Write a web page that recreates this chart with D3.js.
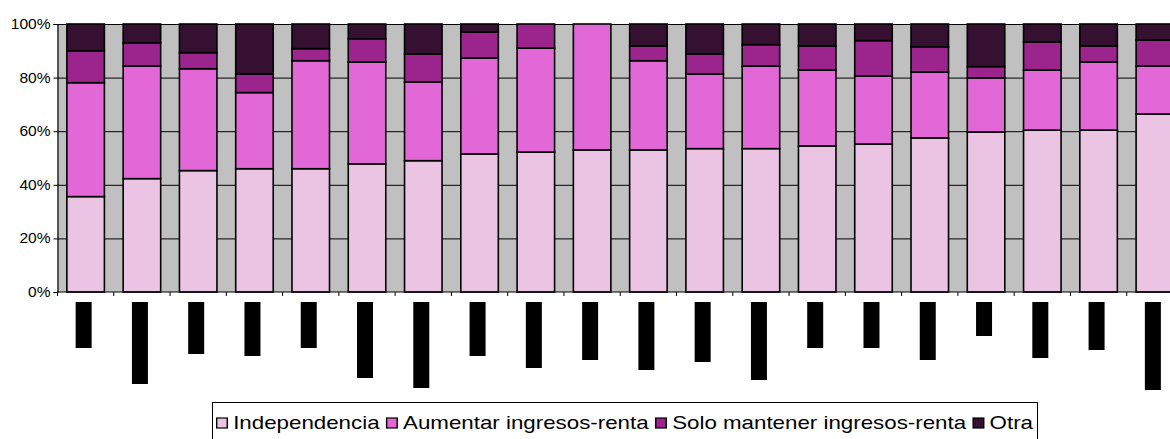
<!DOCTYPE html>
<html>
<head>
<meta charset="utf-8">
<script src="https://cdn.jsdelivr.net/npm/d3@7"></script>
<style>
  body { margin: 0; background: #fff; }
  svg { display: block; font-family: "Liberation Sans", Arial, sans-serif; }
</style>
</head>
<body>
<svg id="chart" width="1170" height="439"></svg>
<script>
// category labels are blacked out in the source, so only ids are kept
const categories = d3.range(1, 21).map(i => "C" + i);
const keys = ["Independencia", "Aumentar ingresos-renta", "Solo mantener ingresos-renta", "Otra"];

const independencia = [35.6, 42.3, 45.3, 46.0, 46.0, 47.8, 49.0, 51.5, 52.2, 53.0, 53.0, 53.5, 53.5, 54.5, 55.2, 57.5, 59.7, 60.4, 60.4, 66.4];
const aumentar      = [42.5, 42.0, 38.0, 28.4, 40.3, 38.0, 29.4, 35.8, 38.8, 47.0, 33.3, 27.8, 30.8, 28.3, 25.4, 24.6, 20.2, 22.4, 25.4, 17.9];
const solo          = [11.9,  8.7,  6.0,  6.9,  4.5,  8.7, 10.4,  9.7,  9.0,  0.0,  5.5,  7.5,  8.0,  9.0, 13.2,  9.4,  4.2, 10.5,  6.0,  9.7];
const otra          = [10.0,  7.0, 10.7, 18.7,  9.2,  5.5, 11.2,  3.0,  0.0,  0.0,  8.2, 11.2,  7.7,  8.2,  6.2,  8.5, 15.9,  6.7,  8.2,  6.0];

// length of each redacted (blacked out) category label
const labelLen = [46, 82, 52, 54, 46, 76, 86, 54, 66, 58, 68, 60, 78, 46, 46, 58, 34, 56, 48, 88];

const yTicks = [0, 20, 40, 60, 80, 100];
const colors = ["#ecc4e3", "#e168d6", "#9b258d", "#361030"];

const data = categories.map((c, i) => ({
  cat: c,
  "Independencia": independencia[i],
  "Aumentar ingresos-renta": aumentar[i],
  "Solo mantener ingresos-renta": solo[i],
  "Otra": otra[i]
}));

const svg = d3.select("#chart"),
  margin = {top: 24, left: 57.5, bottom: 147},
  plotRight = 1183,
  height = +svg.attr("height") - margin.top - margin.bottom;

const x = d3.scaleBand()
    .domain(categories)
    .range([margin.left, plotRight])
    .paddingInner(1 / 3)
    .paddingOuter(1 / 6);

const y = d3.scaleLinear().domain([0, 100]).range([margin.top + height, margin.top]);
const len = d3.scaleLinear().domain([0, 100]).range([0, 100]);
const color = d3.scaleOrdinal().domain(keys).range(colors);

// plot background
svg.append("rect")
    .attr("x", margin.left)
    .attr("y", y(100))
    .attr("width", plotRight - margin.left)
    .attr("height", y(0) - y(100))
    .attr("fill", "#c0c0c0");

// gridlines
svg.append("g")
  .selectAll("line")
  .data(yTicks.filter(d => d > 0))
  .join("line")
    .attr("x1", margin.left)
    .attr("x2", plotRight)
    .attr("y1", d => y(d) + 0.5)
    .attr("y2", d => y(d) + 0.5)
    .attr("stroke", "#000")
    .attr("stroke-width", 1);

// stacked bars
const series = d3.stack().keys(keys)(data);
svg.append("g")
  .selectAll("g")
  .data(series)
  .join("g")
    .attr("fill", d => color(d.key))
  .selectAll("rect")
  .data(d => d.filter(s => s[1] - s[0] > 0))
  .join("rect")
    .attr("x", d => x(d.data.cat))
    .attr("y", d => y(d[1]))
    .attr("width", x.bandwidth())
    .attr("height", d => y(d[0]) - y(d[1]))
    .attr("stroke", "#000")
    .attr("stroke-width", 1.6);

// y axis
const yAxis = svg.append("g")
    .attr("transform", "translate(" + margin.left + ",0)")
    .call(d3.axisLeft(y).tickValues(yTicks).tickSize(4).tickFormat(d => d + "%"));
yAxis.select(".domain").attr("stroke", "#000").attr("stroke-width", 1.2);
yAxis.selectAll(".tick text")
    .attr("font-family", "Liberation Sans, Arial, sans-serif")
    .attr("font-size", 14)
    .attr("fill", "#000")
    .attr("x", 0)
    .attr("transform", "translate(-7,0) scale(1.11,1)");

// x axis (ticks between categories)
const bounds = d3.range(categories.length + 1).map(i => margin.left + i * x.step());
svg.append("line")
    .attr("x1", margin.left)
    .attr("x2", plotRight)
    .attr("y1", y(0))
    .attr("y2", y(0))
    .attr("stroke", "#000")
    .attr("stroke-width", 1.2);
svg.append("g")
  .selectAll("line")
  .data(bounds)
  .join("line")
    .attr("x1", d => d)
    .attr("x2", d => d)
    .attr("y1", y(0))
    .attr("y2", y(0) + 4)
    .attr("stroke", "#000");

// redacted labels
svg.append("g")
  .selectAll("rect")
  .data(categories)
  .join("rect")
    .attr("x", d => x(d) + x.bandwidth() / 2 - 10)
    .attr("y", y(0) + 10)
    .attr("width", 16)
    .attr("height", (d, i) => len(labelLen[i]))
    .attr("fill", "#000");

// legend
const legend = svg.append("g").attr("transform", "translate(212,402)");
legend.append("rect")
    .attr("x", 0.5)
    .attr("y", 0.5)
    .attr("width", 825)
    .attr("height", 60)
    .attr("fill", "#fff")
    .attr("stroke", "#000");

const inner = legend.append("g").attr("transform", "scale(1.175,1)");
let lx = 4;
keys.forEach(k => {
  inner.append("rect")
      .attr("x", lx)
      .attr("y", 16)
      .attr("width", 9)
      .attr("height", 10)
      .attr("fill", color(k))
      .attr("stroke", "#000")
      .attr("stroke-width", 1.2);
  const t = inner.append("text")
      .attr("x", lx + 14)
      .attr("y", 27)
      .attr("font-size", 19)
      .attr("fill", "#000")
      .text(k);
  lx += 14 + t.node().getComputedTextLength() + 6;
});
</script>
</body>
</html>
